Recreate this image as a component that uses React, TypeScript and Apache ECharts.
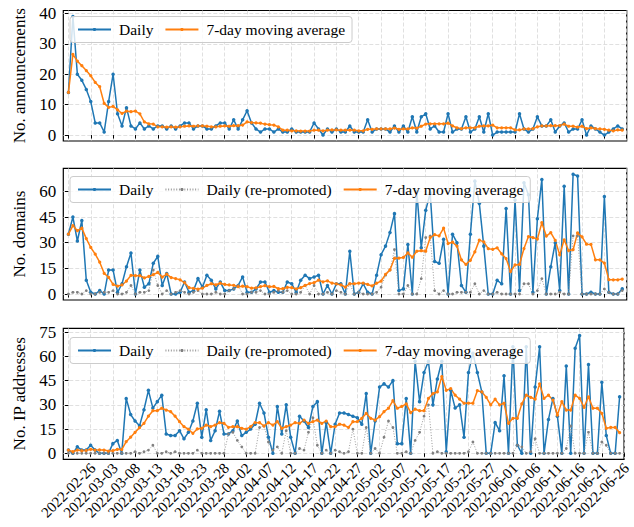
import React, { useEffect, useRef } from 'react';
import * as echarts from 'echarts';

const tickLabels = ['2022-02-26','2022-03-03','2022-03-08','2022-03-13','2022-03-18','2022-03-23','2022-03-28','2022-04-02','2022-04-07','2022-04-12','2022-04-17','2022-04-22','2022-04-27','2022-05-02','2022-05-07','2022-05-12','2022-05-17','2022-05-22','2022-05-27','2022-06-01','2022-06-06','2022-06-11','2022-06-16','2022-06-21','2022-06-26'];
const tickDays = [0,5,10,15,20,25,30,35,40,45,50,55,60,65,70,75,80,85,90,95,100,105,110,115,120];
const tickMarks = [0,5,10,15,20,25,30,35,40,45,50,55,60,65,70,75,80,85,90,95,100,105,110,115,120,125];

const annTicks = [0,10,20,30,40];
const domTicks = [0,15,30,45,60];
const ipTicks = [0,15,30,45,60,75];

const annDaily = [14,39,20,18,15,11,4,4,1,11, 20,7,3,9,3,2,4,2,3,2, 3,3,2,3,2,3,4,4,2,3, 3,2,2,3,4,4,2,5,2,5, 8,4,2,1,2,2,1,2,1,1, 2,1,1,1,1,4,2,0,2,1, 2,1,1,3,1,1,1,5,1,2, 2,2,1,3,1,3,1,6,1,6, 7,2,3,1,1,7,1,2,2,6, 1,2,6,1,7,0,1,1,1,1, 1,7,2,1,2,6,3,3,5,1, 3,4,1,2,2,5,0,3,2,1, 0,1,2,3,2];
const annMA = [14,26.5,24.3,22.8,21.2,19.5,17.3,15.9,10.4,9.1, 9.4,8.3,7.1,7.9,7.7,7.9,7.0,4.3,3.7,3.6, 2.7,2.7,2.6,2.7,2.6,2.7,2.9,3.0,2.9,3.0, 3.0,2.9,2.7,2.7,2.9,3.0,2.9,3.1,3.1,3.3, 4.3,4.1,4.0,3.9,3.6,3.4,3.3,2.7,1.6,1.6, 1.4,1.4,1.3,1.3,1.3,1.6,1.6,1.4,1.6,1.7, 1.7,1.6,1.6,1.6,1.6,1.4,1.4,1.9,1.9,2.0, 2.0,2.0,2.0,2.3,1.9,2.0,2.0,2.4,2.3,2.9, 3.6,3.7,3.7,3.7,3.7,3.9,3.0,2.4,2.1,2.4, 2.4,2.4,2.9,3.0,3.0,3.3,2.4,2.4,2.4,2.4, 1.7,1.7,2.0,2.0,2.1,2.7,3.0,3.0,3.1,3.1, 3.1,3.6,2.9,2.9,2.6,2.9,2.1,2.4,2.1,2.0, 1.9,1.6,1.4,1.7,1.6];

const domDaily = [35,45,31,43,8,1,0,2,0,14, 14,1,6,16,24,0,14,4,6,18, 22,5,12,0,0,1,7,1,2,9, 4,11,8,3,7,2,2,3,5,10, 1,1,3,7,7,1,2,1,1,7, 6,1,8,11,9,10,11,0,5,0, 6,6,0,25,0,1,6,1,0,11, 23,28,36,47,2,3,29,0,60,27, 49,59,19,18,32,0,35,30,5,1, 35,66,53,28,0,0,8,6,50,0, 55,2,65,58,1,44,67,0,16,30, 2,63,0,70,69,0,0,1,0,0, 57,1,0,0,3];
const domRepro = [0,1,1,0,2,0,0,1,1,1, 2,0,0,1,5,0,1,1,2,14, 5,0,2,0,1,2,1,0,1,2, 0,0,0,1,0,0,2,3,5,0, 0,1,1,2,0,0,1,2,1,2, 0,0,1,5,0,5,0,0,1,0, 2,1,0,6,0,1,0,0,0,1, 4,11,14,26,0,0,5,0,0,9, 33,34,2,0,2,0,0,1,1,1, 1,6,0,2,0,0,1,0,0,0, 0,0,6,6,0,2,9,0,0,0, 1,0,0,34,34,0,0,0,0,0, 3,1,0,0,2];
const domMA = [35,40,37,38.5,32.4,27.2,23.3,18.6,12.1,9.7, 5.6,4.6,5.3,7.6,10.9,10.7,10.7,9.4,10.3,11.3, 12.6,9.9,11.6,9.6,9.0,8.3,6.7,3.7,3.3,2.9, 3.4,5.0,6.0,5.4,6.3,5.6,5.3,5.1,4.3,4.6, 4.3,3.4,3.6,4.3,4.9,4.3,4.4,3.1,3.1,3.9, 3.7,3.0,3.7,5.0,6.1,6.6,8.1,7.1,7.7,6.4, 5.9,5.4,4.0,6.0,6.0,6.3,6.3,5.6,4.7,6.3, 7.5,11.5,14.1,20.9,21.0,21.4,24.0,21.5,25.0,25.3, 25.0,33.0,34.7,34.0,38.5,29.5,30.3,28.0,19.9,17.3, 19.7,24.6,31.5,30.5,26.5,26.1,27.0,23.5,20.7,13.1, 17.0,17.3,26.6,33.6,33.0,32.1,41.7,33.9,35.9,31.4, 22.9,31.7,25.4,25.9,35.7,33.4,29.1,29.0,20.0,20.0, 18.1,8.4,8.3,8.3,8.7];

const ipDaily = [2,0,4,2,2,5,2,0,0,0, 6,8,0,34,24,20,17,27,39,28, 32,36,12,11,11,14,9,13,20,31, 10,27,8,14,26,12,12,14,20,11, 13,15,18,31,25,10,0,29,12,30, 10,0,23,20,16,29,32,0,19,0, 18,25,25,24,23,22,18,37,0,20, 41,43,41,45,6,6,34,0,57,32, 50,57,30,46,57,1,39,28,30,10, 50,62,50,38,0,0,19,14,48,0, 66,5,0,66,0,41,66,0,21,34, 23,0,54,0,65,73,0,55,0,0, 44,11,0,0,35];
const ipRepro = [0,0,0,0,0,0,0,0,0,0, 0,0,0,0,0,1,0,1,2,5, 0,0,1,0,1,0,0,0,0,2, 0,0,0,0,0,0,12,13,8,4, 0,0,0,16,17,7,2,4,0,14, 0,0,3,2,13,22,5,0,2,0, 2,1,0,1,15,0,0,16,0,3, 0,10,20,16,0,0,1,0,8,13, 23,30,0,1,0,0,0,0,0,0, 1,7,0,0,0,0,0,0,0,0, 0,5,4,0,1,9,0,0,0,0, 0,0,3,17,0,0,0,13,0,0, 7,5,0,0,0];
const ipMA = [2,1,2,1.6,1.8,2.5,2.0,2.1,2.0,1.4, 1.6,2.5,2.3,7.2,10,13,15.9,18.6,23,26.4, 26.4,27.9,26.8,25.8,23,19.6,16.5,14.9,12.4,15.1, 15.5,17.5,16.5,17.5,19,18.6,16.1,16.5,16.5,15.5, 14.9,16.5,19,19,16.9,19,17.5,19.6,15.5,16.5, 17.5,19,18.6,20.6,18.6,19.6,20.6,18.5,20,16.5, 16.5,18,17.5,16,19.6,19.6,21.7,24.7,21.7,20.6, 22.7,25.8,27.9,32.6,27.9,29,30.6,25.2,27.3,26.4, 26.4,34,37,38,47.5,39,40,36,33.5,31, 31,31,38.8,38,34.7,30,33.5,30,31,18.6, 21.7,21.7,30.6,36,34.7,33.5,43,34,36,33, 23.7,32,26.8,26.8,36,34,28.5,35,27.9,27.9, 24.8,15.5,16,16,12.8];

const FONT = 'Liberation Serif';
const BLUE = '#1f77b4';
const ORANGE = '#ff7f0e';
const GRAY = '#808080';

const panels = [
  { top: 10.5, height: 130.5, min: -1.95, max: 40.95, ticks: annTicks, name: 'No. announcements', daily: annDaily, repro: null as number[] | null, ma: annMA, legendTop: 16.5 },
  { top: 168.3, height: 131.7, min: -3.5, max: 73.5, ticks: domTicks, name: 'No. domains', daily: domDaily, repro: domRepro, ma: domMA, legendTop: 176.5 },
  { top: 328.3, height: 131, min: -3.7, max: 77.4, ticks: ipTicks, name: 'No. IP addresses', daily: ipDaily, repro: ipRepro, ma: ipMA, legendTop: 337.5 },
];

function toPts(arr: number[]) {
  return arr.map((v, i) => [i, v]);
}

export default function App() {
  const ref = useRef<HTMLDivElement>(null);
  useEffect(() => {
    if (!ref.current) return;
    const chart = echarts.init(ref.current, undefined, { renderer: 'svg' });
    const grid: any[] = [];
    const xAxis: any[] = [];
    const yAxis: any[] = [];
    const series: any[] = [];
    const legend: any[] = [];
    const splitLine = { show: true, lineStyle: { color: '#d8d8d8', type: [4, 2], width: 0.8 } };
    panels.forEach((p, k) => {
      grid.push({ left: 63.3, right: 7.3, top: p.top, height: p.height, show: true, borderColor: '#000', borderWidth: 1.2, backgroundColor: 'transparent' });
      xAxis.push({
        type: 'value', gridIndex: k, min: -1.15, max: 125,
        axisLine: { show: false },
        axisTick: { show: true, length: 3.5, lineStyle: { color: '#000', width: 1 }, customValues: tickMarks },
        axisLabel: {
          show: k === 2, customValues: tickDays,
          formatter: (v: number) => tickLabels[Math.round(v / 5)] ?? '',
          rotate: 45, align: 'center', verticalAlign: 'middle', margin: 31,
          fontFamily: FONT, fontSize: 15, color: '#000',
        },
        splitLine,
      });
      yAxis.push({
        type: 'value', gridIndex: k, min: p.min, max: p.max,
        axisLine: { show: false },
        axisTick: { show: true, length: 3.5, lineStyle: { color: '#000', width: 1 }, customValues: p.ticks },
        axisLabel: { customValues: p.ticks, margin: 7, fontFamily: FONT, fontSize: 17, color: '#000' },
        splitLine,
        name: p.name, nameLocation: 'middle', nameGap: 33, nameRotate: 90,
        nameTextStyle: { fontFamily: FONT, fontSize: 17, color: '#000' },
      });
      series.push({
        type: 'line', name: 'Daily', xAxisIndex: k, yAxisIndex: k, data: toPts(p.daily),
        symbol: 'circle', symbolSize: 3.5, showSymbol: true, showAllSymbol: true,
        lineStyle: { color: BLUE, width: 1.5 }, itemStyle: { color: BLUE },
        emphasis: { disabled: true }, silent: true,
      });
      const names = ['Daily'];
      if (p.repro) {
        series.push({
          type: 'line', name: 'Daily (re-promoted)', xAxisIndex: k, yAxisIndex: k, data: toPts(p.repro),
          symbol: 'circle', symbolSize: 2.8, showSymbol: true, showAllSymbol: true,
          lineStyle: { color: '#999999', width: 1, type: [1, 1.7] }, itemStyle: { color: GRAY },
          emphasis: { disabled: true }, silent: true,
        });
        names.push('Daily (re-promoted)');
      }
      series.push({
        type: 'line', name: '7-day moving average', xAxisIndex: k, yAxisIndex: k, data: toPts(p.ma),
        symbol: 'circle', symbolSize: 3.2, showSymbol: true, showAllSymbol: true,
        lineStyle: { color: ORANGE, width: 1.5 }, itemStyle: { color: ORANGE },
        emphasis: { disabled: true }, silent: true,
      });
      names.push('7-day moving average');
      legend.push({
        left: 70, top: p.legendTop, orient: 'horizontal', itemWidth: 33, itemHeight: 4, itemGap: 11,
        data: names, selectedMode: false,
        textStyle: { fontFamily: FONT, fontSize: 15.5, color: '#000', padding: [0, 0, 0, 3] },
        backgroundColor: 'rgba(255,255,255,0.8)', borderColor: '#cccccc', borderWidth: 1, borderRadius: 3,
        padding: [5, 7, 5, 7],
      });
    });
    chart.setOption({ animation: false, grid, xAxis, yAxis, series, legend });
    return () => chart.dispose();
  }, []);
  return <div ref={ref} style={{ position: 'fixed', left: 0, top: 0, width: 634, height: 527, background: '#fff' }} />;
}
